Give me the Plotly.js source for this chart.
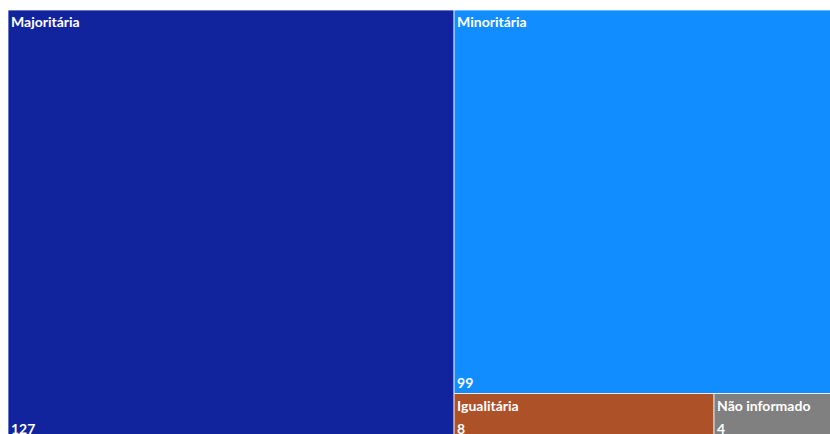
<!DOCTYPE html>
<html>
<head>
<meta charset="utf-8">
<script src="https://cdn.plot.ly/plotly-3.0.1.min.js"></script>
<style>
html,body{margin:0;padding:0;overflow:hidden;background:#fff;width:830px;height:434px;}
#chart{width:844px;height:440px;}
</style>
</head>
<body>
<div id="chart"></div>
<script>
const categories = ["Majoritária", "Minoritária", "Igualitária", "Não informado"];
const counts = [127, 99, 8, 4];
const colors = ["#12239E", "#118DFF", "#AD5129", "#808080"];
const parents = categories.map(() => "");

const common = {
  type: "treemap",
  labels: categories,
  parents: parents,
  values: counts,
  sort: false,
  branchvalues: "total",
  tiling: {packing: "squarify", pad: 0},
  pathbar: {visible: false},
  hoverinfo: "skip",
  domain: {x: [0, 1], y: [0, 1]}
};

const font = {family: "Lato, Noto Sans, sans-serif", size: 14, color: "#ffffff"};

const labelTrace = Object.assign({}, common, {
  marker: {colors: colors, line: {color: "rgba(255,255,255,0.75)", width: 1}, pad: {t: 0, l: 0, r: 0, b: 0}},
  texttemplate: "<b>%{label}</b>",
  textposition: "top left",
  textfont: font
});

const valueTrace = Object.assign({}, common, {
  marker: {colors: categories.map(() => "rgba(0,0,0,0)"), line: {width: 0}, pad: {t: 0, l: 0, r: 0, b: 0}},
  texttemplate: "<b>%{value}</b>",
  textposition: "bottom left",
  textfont: font
});

Plotly.newPlot("chart", [labelTrace, valueTrace], {
  width: 844,
  height: 440,
  margin: {l: 8, r: 0, t: 10, b: 0},
  paper_bgcolor: "#ffffff",
  showlegend: false
}, {displayModeBar: false, staticPlot: true});
</script>
</body>
</html>
